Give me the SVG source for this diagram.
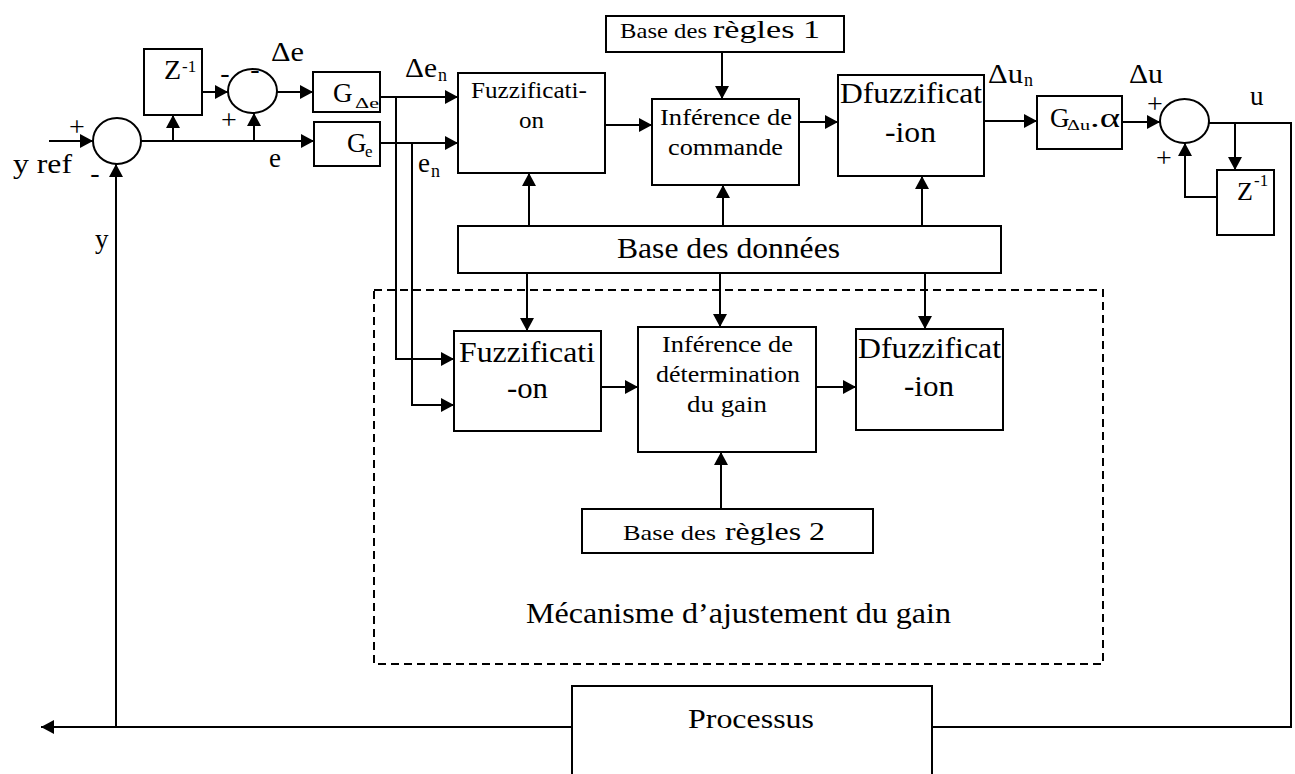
<svg xmlns="http://www.w3.org/2000/svg" width="1295" height="774" viewBox="0 0 1295 774" font-family="'Liberation Serif', 'Times New Roman', serif">
<style>
.b{fill:#fff;stroke:#000;stroke-width:2}
.c{fill:none;stroke:#000;stroke-width:2}
.ar{marker-end:url(#ah)}
text{font-family:'Liberation Serif', 'Times New Roman', serif;fill:#000}
.l{font-size:27px}
.s{font-size:16px}
.m{text-anchor:middle}
</style>
<defs>
<marker id="ah" markerUnits="userSpaceOnUse" markerWidth="14" markerHeight="14" refX="13" refY="7" orient="auto"><path d="M0,0 L13,7 L0,14 z" fill="#000"/></marker>
</defs>
<rect x="0" y="0" width="1295" height="774" fill="#fff"/>
<g id="mechanism-frame">
<rect x="374" y="290" width="729" height="374" fill="none" stroke="#000" stroke-width="2" stroke-dasharray="8,5"/>
<text x="526" y="623" font-size="30" textLength="425" lengthAdjust="spacingAndGlyphs">Mécanisme d’ajustement du gain</text>
</g>
<g id="connectors">
<path class="c ar" d="M49,141 H93"/>
<path class="c ar" d="M141,141 H314"/>
<path class="c ar" d="M173,141 V115"/>
<path class="c ar" d="M202,92 H228"/>
<path class="c ar" d="M254,141 V113"/>
<path class="c ar" d="M277,92 H313"/>
<path class="c ar" d="M380,97 H458"/>
<path class="c ar" d="M380,143 H458"/>
<path class="c ar" d="M396,97 V359 H454"/>
<path class="c ar" d="M412,143 V405 H454"/>
<path class="c ar" d="M605,125 H652"/>
<path class="c ar" d="M799,122 H838"/>
<path class="c ar" d="M722,52 V99"/>
<path class="c ar" d="M529,226 V173"/>
<path class="c ar" d="M723,226 V185"/>
<path class="c ar" d="M922,226 V176"/>
<path class="c ar" d="M527,273 V331"/>
<path class="c ar" d="M720,273 V327"/>
<path class="c ar" d="M925,273 V329"/>
<path class="c ar" d="M601,387 H638"/>
<path class="c ar" d="M816,387 H856"/>
<path class="c ar" d="M721,509 V452"/>
<path class="c ar" d="M984,121 H1037"/>
<path class="c ar" d="M1122,122 H1160"/>
<path class="c" d="M1209,123 H1291 V727 H932"/>
<path class="c ar" d="M1235,123 V170"/>
<path class="c ar" d="M1217,197 H1185 V143"/>
<path class="c ar" d="M572,727 H41"/>
<path class="c ar" d="M116,727 V164"/>
</g>
<g id="sum1">
<ellipse class="b" cx="117" cy="141" rx="24" ry="23"/>
<text x="77" y="136" class="m" font-size="28">+</text>
<text x="95" y="182" class="m" font-size="28">-</text>
</g>
<g id="z1">
<rect class="b" x="144" y="49" width="58" height="66"/>
<text x="164" y="79" font-size="28">Z</text>
<text x="182" y="72" font-size="17">-1</text>
</g>
<g id="sum2">
<ellipse class="b" cx="252.5" cy="91" rx="24.5" ry="22"/>
<text x="225" y="82" class="m" font-size="28">-</text>
<text x="255" y="78" class="m" font-size="28">-</text>
<text x="229" y="129" class="m" font-size="28">+</text>
</g>
<g id="gde">
<rect class="b" x="313" y="72" width="67" height="40"/>
<text x="333" y="102" font-size="27">G</text>
<text x="355" y="108" font-size="15" textLength="24" lengthAdjust="spacingAndGlyphs">Δe</text>
</g>
<g id="ge">
<rect class="b" x="314" y="122" width="66" height="44"/>
<text x="347" y="152" font-size="27">G</text>
<text x="365" y="157" font-size="17">e</text>
</g>
<g id="fuzz1">
<rect class="b" x="458" y="73" width="147" height="100"/>
<text x="471" y="98" font-size="23" textLength="116" lengthAdjust="spacingAndGlyphs">Fuzzificati-</text>
<text x="519" y="128" font-size="23" textLength="25" lengthAdjust="spacingAndGlyphs">on</text>
</g>
<g id="regles1">
<rect class="b" x="606" y="16" width="238" height="36"/>
<text x="620" y="38" font-size="22" textLength="87" lengthAdjust="spacingAndGlyphs">Base des</text>
<text x="713" y="38" font-size="26" textLength="107" lengthAdjust="spacingAndGlyphs">règles 1</text>
</g>
<g id="inference1">
<rect class="b" x="652" y="99" width="147" height="86"/>
<text x="660" y="125" font-size="24" textLength="132" lengthAdjust="spacingAndGlyphs">Inférence de</text>
<text x="668" y="155" font-size="24" textLength="115" lengthAdjust="spacingAndGlyphs">commande</text>
</g>
<g id="dfuzz1">
<rect class="b" x="838" y="75" width="146" height="101"/>
<text x="840" y="103" font-size="29" textLength="142" lengthAdjust="spacingAndGlyphs">Dfuzzificat</text>
<text x="885" y="142" font-size="29" textLength="51" lengthAdjust="spacingAndGlyphs">-ion</text>
</g>
<g id="g-du">
<rect class="b" x="1037" y="96" width="85" height="53"/>
<text x="1050" y="127" font-size="27">G</text>
<text x="1067" y="130" font-size="15" textLength="23" lengthAdjust="spacingAndGlyphs">Δu</text>
<text x="1090" y="127" font-size="27" textLength="30" lengthAdjust="spacingAndGlyphs">.α</text>
</g>
<g id="sum3">
<ellipse class="b" cx="1184.5" cy="121" rx="24.5" ry="22"/>
<text x="1155" y="113" class="m" font-size="28">+</text>
<text x="1164" y="167" class="m" font-size="28">+</text>
</g>
<g id="z2">
<rect class="b" x="1217" y="170" width="57" height="65"/>
<text x="1237" y="200" font-size="26">Z</text>
<text x="1254" y="186" font-size="17">-1</text>
</g>
<g id="donnees">
<rect class="b" x="458" y="226" width="543" height="47"/>
<text x="617" y="258" font-size="30" textLength="223" lengthAdjust="spacingAndGlyphs">Base des données</text>
</g>
<g id="fuzz2">
<rect class="b" x="454" y="331" width="147" height="100"/>
<text x="459" y="362" font-size="29" textLength="136" lengthAdjust="spacingAndGlyphs">Fuzzificati</text>
<text x="507" y="398" font-size="29" textLength="41" lengthAdjust="spacingAndGlyphs">-on</text>
</g>
<g id="inference2">
<rect class="b" x="638" y="327" width="178" height="125"/>
<text x="662" y="352" font-size="24" textLength="131" lengthAdjust="spacingAndGlyphs">Inférence de</text>
<text x="656" y="382" font-size="24" textLength="144" lengthAdjust="spacingAndGlyphs">détermination</text>
<text x="687" y="412" font-size="24" textLength="80" lengthAdjust="spacingAndGlyphs">du gain</text>
</g>
<g id="dfuzz2">
<rect class="b" x="856" y="329" width="147" height="101"/>
<text x="858" y="358" font-size="29" textLength="143" lengthAdjust="spacingAndGlyphs">Dfuzzificat</text>
<text x="904" y="396" font-size="29" textLength="50" lengthAdjust="spacingAndGlyphs">-ion</text>
</g>
<g id="regles2">
<rect class="b" x="582" y="509" width="291" height="44"/>
<text x="623" y="540" font-size="22" textLength="93" lengthAdjust="spacingAndGlyphs">Base des</text>
<text x="725" y="540" font-size="26" textLength="100" lengthAdjust="spacingAndGlyphs">règles 2</text>
</g>
<g id="processus">
<path class="b" d="M572,780 V686 H932 V780"/>
<text x="688" y="728" font-size="28" textLength="126" lengthAdjust="spacingAndGlyphs">Processus</text>
</g>
<g id="labels">
<text x="13" y="173" font-size="28" textLength="59" lengthAdjust="spacingAndGlyphs">y ref</text>
<text x="269" y="167" class="l">e</text>
<text x="271" y="61" class="l" textLength="33" lengthAdjust="spacingAndGlyphs">Δe</text>
<text x="405" y="77" class="l" textLength="32" lengthAdjust="spacingAndGlyphs">Δe</text>
<text x="438" y="81" font-size="18">n</text>
<text x="418" y="172" class="l">e</text>
<text x="431" y="177" font-size="18">n</text>
<text x="95" y="248" class="l">y</text>
<text x="988" y="83" class="l" textLength="35" lengthAdjust="spacingAndGlyphs">Δu</text>
<text x="1024" y="86" font-size="18">n</text>
<text x="1129" y="83" class="l" textLength="34" lengthAdjust="spacingAndGlyphs">Δu</text>
<text x="1250" y="105" class="l">u</text>
</g>
</svg>
